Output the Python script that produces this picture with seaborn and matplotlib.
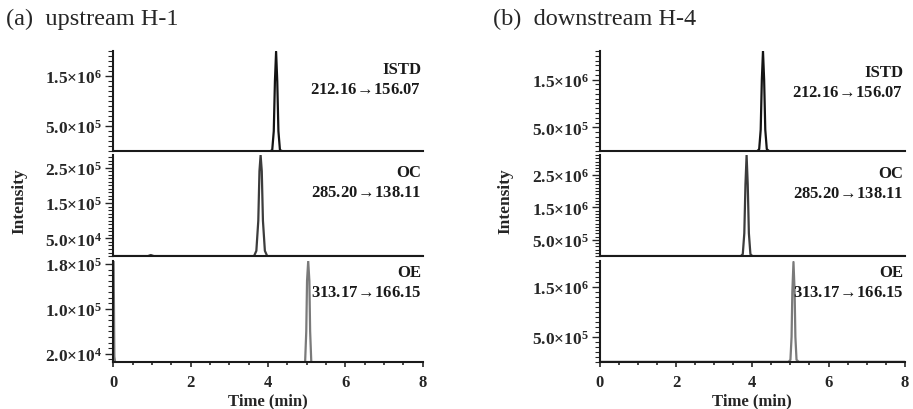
import matplotlib
matplotlib.use('Agg')
import matplotlib.pyplot as plt
from matplotlib.ticker import FixedLocator, MultipleLocator
import numpy as np
import pandas as pd
import seaborn as sns

sns.set_theme(style='ticks')
plt.rcParams['font.family'] = ['Liberation Serif', 'DejaVu Serif']
plt.rcParams['mathtext.fontset'] = 'custom'
plt.rcParams['mathtext.rm'] = 'Liberation Serif:bold'
plt.rcParams['mathtext.bf'] = 'Liberation Serif:bold'
plt.rcParams['mathtext.default'] = 'bf'

# (a) upstream H-1 traces, time (min) / intensity
a_istd_time = [0.0, 4.06, 4.11, 4.15, 4.18, 4.21, 4.24, 4.27, 4.31, 4.37, 8.0]
a_istd_int = [0, 0, 2.0e4, 4.0e5, 1.4e6, 1.99e6, 1.4e6, 4.0e5, 2.0e4, 0, 0]
a_oc_time = [0.0, 0.90, 0.97, 1.05, 3.64, 3.70, 3.75, 3.78, 3.81, 3.84, 3.87, 3.92, 3.98, 8.0]
a_oc_int = [0, 0, 3.0e3, 0, 0, 1.5e4, 1.0e5, 2.4e5, 2.85e5, 2.4e5, 1.0e5, 1.5e4, 0, 0]
a_oe_time = [0.0, 0.01, 0.03, 0.06, 0.95, 1.0, 1.05, 4.90, 4.96, 4.99, 5.01, 5.04, 5.07, 5.09, 5.12, 5.18, 8.0]
a_oe_int = [1.85e5, 1.85e5, 1.5e4, 0, 0, 4.0e3, 0, 0, 5.0e3, 6.0e4, 1.5e5, 1.85e5, 1.5e5, 6.0e4, 5.0e3, 0, 0]

# (b) downstream H-4 traces
b_istd_time = [0.0, 4.13, 4.18, 4.22, 4.25, 4.28, 4.31, 4.34, 4.38, 4.44, 8.0]
b_istd_int = [0, 0, 4.0e4, 4.5e5, 1.5e6, 2.1e6, 1.5e6, 4.5e5, 4.0e4, 0, 0]
b_oc_time = [0.0, 3.70, 3.75, 3.79, 3.82, 3.85, 3.88, 3.91, 3.95, 4.00, 8.0]
b_oc_int = [0, 0, 6.0e4, 7.0e5, 2.2e6, 3.1e6, 2.2e6, 7.0e5, 6.0e4, 0, 0]
b_oe_time = [0.0, 4.95, 5.00, 5.03, 5.05, 5.08, 5.11, 5.13, 5.16, 5.22, 8.0]
b_oe_int = [0, 0, 4.0e4, 5.0e5, 1.4e6, 2.0e6, 1.4e6, 5.0e5, 4.0e4, 0, 0]

compounds = ['ISTD', 'OC', 'OE']
arrow = '$\\!\\rightarrow\\!$'
transitions = ['212.16' + arrow + '156.07', '285.20' + arrow + '138.11', '313.17' + arrow + '166.15']
panel_titles = ['(a)  upstream H-1', '(b)  downstream H-4']

a_yticks = [[5.0e5, 1.5e6], [5.0e4, 1.5e5, 2.5e5], [2.0e4, 1.0e5, 1.8e5]]
b_yticks = [[5.0e5, 1.5e6], [5.0e5, 1.5e6, 2.5e6], [5.0e5, 1.5e6]]
a_ylims = [(0, 2.0e6), (0, 2.85e5), (5.8e3, 1.853e5)]
b_ylims = [(0, 2.1e6), (0, 3.1e6), (0, 2.02e6)]
a_minor = [1.0e5, 1.0e4, 1.0e4]
b_minor = [1.0e5, 1.0e5, 1.0e5]
x_ticks = [0, 2, 4, 6, 8]

colors = ['#141414', '#3c3c3c', '#7a7a7a']
label_y = [[0.90, 0.91, 0.97], [0.87, 0.90, 0.97]]

panels = [
    [(a_istd_time, a_istd_int), (a_oc_time, a_oc_int), (a_oe_time, a_oe_int)],
    [(b_istd_time, b_istd_int), (b_oc_time, b_oc_int), (b_oe_time, b_oe_int)],
]
yticks = [a_yticks, b_yticks]
ylims = [a_ylims, b_ylims]
minors = [a_minor, b_minor]


def sci(v):
    e = int(np.floor(np.log10(v)))
    m = v / 10 ** e
    return f'{m:.1f}×10$^{{{e}}}$'


fig = plt.figure(figsize=(9.13, 4.10), dpi=100)
lefts = [0.124, 0.657]
widths = [0.339, 0.334]
bottoms = [0.629, 0.373, 0.115]
heights = [0.244, 0.246, 0.246]

for p in range(2):
    for r in range(3):
        ax = fig.add_axes([lefts[p], bottoms[r], widths[p], heights[r]])
        t, y = panels[p][r]
        df = pd.DataFrame({'time': t, 'intensity': y})
        sns.lineplot(data=df, x='time', y='intensity', ax=ax, color=colors[r],
                     lw=1.6, sort=False, estimator=None)
        ax.set_xlim(0, 8)
        ax.set_ylim(*ylims[p][r])
        sns.despine(ax=ax)
        for s in ['left', 'bottom']:
            ax.spines[s].set_linewidth(1.5)
            ax.spines[s].set_color('#1a1a1a')
        ax.yaxis.set_major_locator(FixedLocator(yticks[p][r]))
        ax.set_yticklabels([sci(v) for v in yticks[p][r]], fontsize=12.5, fontweight='bold')
        ax.yaxis.set_minor_locator(MultipleLocator(minors[p][r]))
        ax.tick_params(axis='y', which='major', length=6, width=1.0, pad=2, direction='out')
        ax.tick_params(axis='y', which='minor', length=3.5, width=0.8, direction='out')
        ax.set_ylabel('')
        ax.set_xlabel('')
        if r < 2:
            ax.set_xticks([])
            ax.tick_params(axis='x', which='both', length=0)
        else:
            ax.set_xticks(x_ticks)
            ax.set_xticklabels([str(v) for v in x_ticks], fontsize=12, fontweight='bold')
            ax.xaxis.set_minor_locator(MultipleLocator(0.5))
            ax.tick_params(axis='x', which='major', length=3.5, width=1.2, pad=5)
            ax.tick_params(axis='x', which='minor', length=2.5, width=1.2)
            ax.set_xlabel('Time (min)', fontsize=12, fontweight='bold', labelpad=2)
        ax.text(0.995, label_y[p][r], compounds[r] + '\n' + transitions[r],
                transform=ax.transAxes, ha='right', va='top', fontsize=12,
                fontweight='bold', linespacing=1.35, color='#1a1a1a')
    fig.text(lefts[p] - 0.117, 0.952, panel_titles[p], fontsize=17.5, va='center', ha='left')
    fig.text(lefts[p] - 0.103, 0.51, 'Intensity', fontsize=12.5, fontweight='bold',
             rotation=90, va='center', ha='center')

fig.savefig('out.png', dpi=100)
